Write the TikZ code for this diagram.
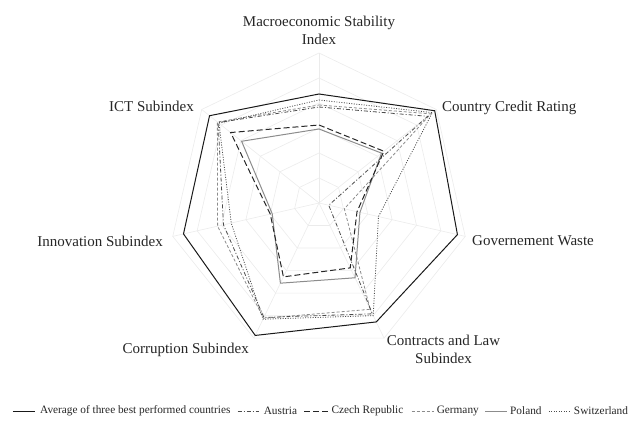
\documentclass[tikz,border=0pt]{standalone}
\usepackage{fontspec}
\setmainfont{Liberation Serif}
\usetikzlibrary{positioning}

\tikzset{
  gridline/.style={draw=black!8, line width=0.6pt},
  avgline/.style={draw=black!90, line width=1pt},
  austrialine/.style={draw=black!70, line width=0.8pt, dash pattern=on 4pt off 2pt on 1pt off 2pt},
  czechline/.style={draw=black!85, line width=1pt, dash pattern=on 6pt off 3pt},
  germanyline/.style={draw=black!45, line width=0.8pt, dash pattern=on 3pt off 2pt},
  polandline/.style={draw=black!45, line width=1pt},
  swissline/.style={draw=black!70, line width=0.8pt, dash pattern=on 1pt off 1.5pt},
  axislabel/.style={inner sep=0pt, text=black!85, font=\fontsize{15}{18}\selectfont},
  legendtext/.style={inner sep=0pt, text=black!85, font=\fontsize{11.3}{13}\selectfont},
}

\begin{document}
\begin{tikzpicture}[x=1pt,y=1pt]
  \useasboundingbox (-319,-219) rectangle (315,203);

  % web
  \foreach \r in {25,50,...,150}
    \draw[gridline] (90:\r) -- (38.57:\r) -- (-12.86:\r) -- (-64.29:\r) -- (-115.71:\r) -- (-167.14:\r) -- (141.43:\r) -- cycle;
  \foreach \a [count=\i] in {90,38.57,-12.86,-64.29,-115.71,-167.14,141.43}
    \draw[gridline] (0,0) coordinate (o) -- (\a:150) coordinate (a\i);

  % axis labels
  \node[axislabel, align=center] (macro) at (0,173) {Macroeconomic Stability\\Index};
  \node[axislabel, anchor=base west] (credit) at (123,91) {Country Credit Rating};
  \node[axislabel, anchor=base west] (waste) at (153,-43) {Governement Waste};
  \node[axislabel, align=center] (law) at (124.5,-146.5) {Contracts and Law\\Subindex};
  \node[axislabel, anchor=base east] (corrupt) at (-70,-150) {Corruption Subindex};
  \node[axislabel, anchor=base east] (innov) at (-156,-44) {Innovation Subindex};
  \node[axislabel, anchor=base east] (ict) at (-125,91) {ICT Subindex};

  % countries
  \draw[polandline] (90:74) -- (38.57:80) -- (-12.86:42) -- (-64.29:83) -- (-115.71:89) -- (-167.14:48) -- (141.43:99) -- cycle;
  \draw[germanyline] (90:98) -- (38.57:143) -- (-12.86:26) -- (-64.29:118) -- (-115.71:128) -- (-167.14:104) -- (141.43:130) -- cycle;
  \draw[swissline] (90:103) -- (38.57:145) -- (-12.86:61) -- (-64.29:125) -- (-115.71:129) -- (-167.14:90) -- (141.43:128) -- cycle;
  \draw[austrialine] (90:96) -- (38.57:139) -- (-12.86:10) -- (-64.29:123) -- (-115.71:127) -- (-167.14:98) -- (141.43:129) -- cycle;
  \draw[czechline] (90:78) -- (38.57:83) -- (-12.86:39) -- (-64.29:72) -- (-115.71:82) -- (-167.14:50) -- (141.43:113) -- cycle;
  \draw[avgline] (90:109) -- (38.57:148) -- (-12.86:142) -- (-64.29:132) -- (-115.71:147) -- (-167.14:139) -- (141.43:140) -- cycle;

  % legend
  \coordinate (k1) at (-306,-208);
  \draw[avgline, line width=0.8pt] (k1) -- ++(22,0) coordinate (k1e);
  \node[legendtext, right=5pt of k1e] (tavg) {Average of three best performed countries};
  \coordinate[right=7pt of tavg] (k2);
  \draw[austrialine, line width=0.7pt] (k2) -- ++(21,0) coordinate (k2e);
  \node[legendtext, right=5pt of k2e] (taut) {Austria};
  \coordinate[right=7pt of taut] (k3);
  \draw[czechline, line width=0.8pt] (k3) -- ++(24,0) coordinate (k3e);
  \node[legendtext, right=3pt of k3e] (tcze) {Czech Republic};
  \coordinate[right=8pt of tcze] (k4);
  \draw[germanyline, line width=0.7pt] (k4) -- ++(22,0) coordinate (k4e);
  \node[legendtext, right=3pt of k4e] (tger) {Germany};
  \coordinate[right=6pt of tger] (k5);
  \draw[polandline, line width=0.8pt] (k5) -- ++(22,0) coordinate (k5e);
  \node[legendtext, right=3pt of k5e] (tpol) {Poland};
  \coordinate[right=7pt of tpol] (k6);
  \draw[swissline, line width=0.7pt] (k6) -- ++(21,0) coordinate (k6e);
  \node[legendtext, right=4pt of k6e] (tswi) {Switzerland};
\end{tikzpicture}
\end{document}
